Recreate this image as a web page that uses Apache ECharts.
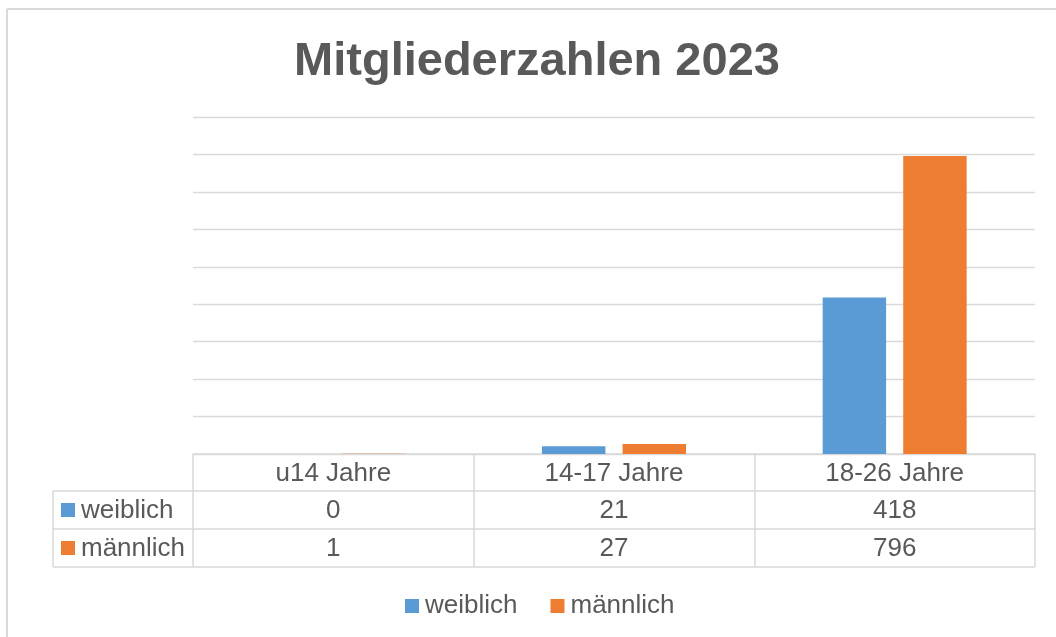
<!DOCTYPE html>
<html>
<head>
<meta charset="utf-8">
<script src="https://cdn.jsdelivr.net/npm/echarts@6/dist/echarts.min.js"></script>
<style>
html,body{margin:0;padding:0;background:#fff;}
#main{width:1056px;height:637px;}
</style>
</head>
<body>
<div id="main"></div>
<script>
const titleText = 'Mitgliederzahlen 2023';
const categories = ['u14 Jahre', '14-17 Jahre', '18-26 Jahre'];
const seriesNames = ['weiblich', 'männlich'];
const weiblich = [0, 21, 418];
const maennlich = [1, 27, 796];
const yMin = 0, yMax = 900, yInterval = 100;

const colors = ['#5B9BD5', '#ED7D31'];
const textColor = '#595959';
const lineColor = '#d9d9d9';
const FONT = '"Liberation Sans", Arial, sans-serif';

const gridLeft = 193, gridRight = 1035, gridTop = 117, gridBottom = 454;
const rowLines = [491, 529, 567];
const tableLeft = 53;

const chart = echarts.init(document.getElementById('main'), null, {renderer: 'canvas'});

const graphics = [
  {type: 'line', shape: {x1: 7, y1: 9, x2: 1056, y2: 9}, style: {stroke: lineColor, lineWidth: 2}, silent: true},
  {type: 'line', shape: {x1: 7, y1: 9, x2: 7, y2: 637}, style: {stroke: lineColor, lineWidth: 2}, silent: true},
  {type: 'line', shape: {x1: tableLeft, y1: rowLines[0], x2: tableLeft, y2: rowLines[2]}, style: {stroke: lineColor, lineWidth: 1.5}, silent: true}
];
rowLines.forEach(y => {
  graphics.push({type: 'line', shape: {x1: tableLeft, y1: y, x2: gridRight, y2: y}, style: {stroke: lineColor, lineWidth: 1.5}, silent: true});
});
seriesNames.forEach((name, i) => {
  const cy = (rowLines[i] + rowLines[i + 1]) / 2;
  graphics.push({type: 'rect', shape: {x: 61, y: cy - 7, width: 14, height: 14}, style: {fill: colors[i]}, silent: true});
  graphics.push({type: 'text', x: 81, y: cy + 1, style: {text: name, font: '26px ' + FONT, fill: textColor, textVerticalAlign: 'middle', textAlign: 'left'}, silent: true});
});

const rowValues = [weiblich, maennlich];

const option = {
  backgroundColor: '#ffffff',
  color: colors,
  animation: false,
  textStyle: {fontFamily: FONT},
  title: {
    text: titleText,
    left: 537,
    top: 39,
    textAlign: 'center',
    padding: 0,
    textStyle: {fontSize: 47, fontWeight: 'bold', color: textColor, fontFamily: FONT}
  },
  legend: {
    data: seriesNames,
    left: 405,
    top: 593,
    icon: 'rect',
    itemWidth: 14,
    itemHeight: 14,
    itemGap: 33,
    padding: 0,
    textStyle: {fontSize: 26, color: textColor, fontFamily: FONT, padding: [0, 0, 0, 1]}
  },
  grid: {
    left: gridLeft,
    right: 1056 - gridRight,
    top: gridTop,
    bottom: 637 - gridBottom,
    containLabel: false
  },
  xAxis: [
    {
      type: 'category',
      data: categories,
      position: 'bottom',
      axisLine: {show: true, lineStyle: {color: lineColor, width: 1.5}},
      axisTick: {show: true, length: rowLines[2] - gridBottom, lineStyle: {color: lineColor, width: 1.5}},
      axisLabel: {margin: (gridBottom + rowLines[0]) / 2 - gridBottom + 1, verticalAlign: 'middle', fontSize: 26, color: textColor, fontFamily: FONT},
      splitLine: {show: false}
    }
  ].concat(rowValues.map((vals, i) => ({
    type: 'category',
    data: categories,
    position: 'bottom',
    axisLine: {show: false},
    axisTick: {show: false},
    splitLine: {show: false},
    axisLabel: {
      margin: (rowLines[i] + rowLines[i + 1]) / 2 - gridBottom + 1,
      verticalAlign: 'middle',
      fontSize: 26,
      color: textColor,
      fontFamily: FONT,
      formatter: (v, idx) => String(vals[idx])
    }
  }))),
  yAxis: {
    type: 'value',
    min: yMin,
    max: yMax,
    interval: yInterval,
    axisLine: {show: false},
    axisTick: {show: false},
    axisLabel: {show: false},
    splitLine: {show: true, lineStyle: {color: lineColor, width: 1.3}}
  },
  series: [
    {name: seriesNames[0], type: 'bar', data: weiblich, barWidth: '22.6%', barGap: '27%', xAxisIndex: 0},
    {name: seriesNames[1], type: 'bar', data: maennlich, barWidth: '22.6%', barGap: '27%', xAxisIndex: 0}
  ],
  graphic: graphics
};

chart.setOption(option);
</script>
</body>
</html>
